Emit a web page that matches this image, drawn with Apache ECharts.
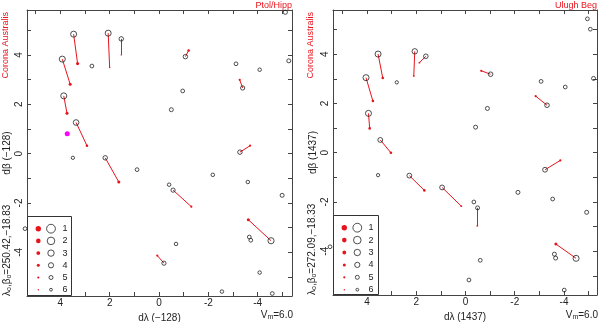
<!DOCTYPE html>
<html><head><meta charset="utf-8">
<script src="https://cdn.jsdelivr.net/npm/echarts@6/dist/echarts.min.js"></script>
<style>html,body{margin:0;padding:0;background:#fff}#c{width:600px;height:322px}</style>
</head><body><div id="c"></div>
<script>
// ---------------- data ----------------
const majorTicks = [-4, -2, 0, 2, 4];
const allTicks = [-5, -4, -3, -2, -1, 0, 1, 2, 3, 4, 5];
const legendMags = [1, 2, 3, 4, 5, 6];

// Left panel (Ptolemy vs Hipparcos): modern positions; first 13 are paired with catalog positions
const ptolHipX = [3.46, 2.06, 1.53, 3.92, 3.86, 3.36, -1.07, -3.39, -3.28, 2.18, -0.57, -4.54, -0.20,
  2.72, -3.12, -4.08, -5.12, -5.26, -0.96, -0.50, 3.49, 0.89, -2.18, -0.41, -3.60, -4.99, -3.66, -3.72, -0.69, -4.08, -2.55, -4.59, 5.43];
const ptolHipY = [4.84, 4.88, 4.65, 3.83, 2.34, 1.26, 3.93, 2.66, 0.06, -0.17, -1.48, -3.53, -4.44,
  3.55, 3.64, 3.40, 5.73, 3.76, 2.54, 1.78, -0.17, -0.65, -0.86, -1.26, -1.15, -1.69, -3.38, -3.51, -3.66, -4.82, -5.59, -5.67, -3.04];
const ptolHipMag = [3.3, 3.3, 4.6, 3.3, 3.3, 3.6, 4.6, 4.8, 4.6, 4.6, 4.8, 3.2, 4.8,
  5.2, 5.2, 5.4, 4.8, 5.0, 5.2, 5.0, 5.6, 5.2, 5.4, 5.4, 5.4, 5.0, 5.2, 5.2, 5.4, 5.4, 5.4, 5.2, 5.2];
const ptolCatX = [3.30, 2.00, 1.53, 3.60, 3.73, 2.92, -1.20, -3.27, -3.69, 1.63, -1.31, -3.62, 0.07];
const ptolCatY = [3.65, 3.49, 4.00, 2.81, 1.64, 0.32, 4.18, 2.99, 0.32, -1.15, -2.15, -2.68, -4.13];
const ptolCatMag = [3.8, 6.0, 6.0, 4.0, 4.0, 4.5, 4.5, 5.0, 5.0, 4.0, 5.0, 4.0, 5.0];
const ptolExtra = [3.72, 0.81];

// Right panel (Ulugh Beg vs Hipparcos)
const ulughHipX = [3.55, 4.04, 3.94, 3.46, 2.06, 1.61, -1.02, -3.31, 2.28, 0.95, -0.49, -3.23, -4.49,
  2.79, -3.07, -4.05, -0.89, -0.41, -4.95, -5.07, -5.20, 3.55, -0.34, -2.13, -3.54, -4.92, -3.61, -3.66, -0.60, -0.14, -4.01, 5.50];
const ulughHipY = [4.01, 3.05, 1.60, 0.52, 4.12, 3.92, 3.19, 1.93, -0.93, -1.41, -2.24, -0.69, -4.29,
  2.86, 2.90, 2.67, 1.80, 1.04, 5.44, 5.02, 3.02, -0.91, -2.00, -1.61, -1.88, -2.42, -4.12, -4.28, -4.37, -5.17, -5.58, -3.82];
const ulughHipMag = [3.3, 3.3, 3.3, 4.3, 3.8, 4.5, 4.5, 4.5, 4.3, 4.3, 5.0, 4.3, 3.3,
  5.6, 5.2, 5.2, 5.0, 5.0, 5.2, 5.2, 5.0, 5.6, 5.2, 5.0, 5.2, 5.0, 5.0, 5.0, 5.2, 5.2, 5.2, 5.2];
const ulughCatX = [3.36, 3.76, 3.89, 3.03, 2.10, 1.87, -0.64, -2.85, 1.67, 0.17, -0.48, -3.85, -3.67];
const ulughCatY = [3.04, 2.10, 0.99, 0.00, 3.12, 3.66, 3.33, 2.30, -1.53, -2.17, -2.97, -0.31, -3.71];
const ulughCatMag = [4.5, 4.5, 4.5, 4.5, 5.5, 5.5, 5.0, 5.0, 4.5, 5.5, 5.5, 5.0, 4.0];

// ---------------- styling ----------------
const FONT = 'Liberation Sans, Arial, sans-serif';
const RED = '#e8141c';
const AX = '#444';
const TXT = '#222';
const openSize = m => 10 - 1.2 * m;
const redSize = m => 6.2 - 0.8 * m;

const zip3 = (a, b, c) => a.map((v, i) => [v, b[i], c[i]]);

function xAxes(gi, min, max, name) {
  const base = {
    gridIndex: gi, type: 'value', min, max, inverse: true,
    axisLine: { show: true, onZero: false, lineStyle: { color: AX, width: 1 } },
    axisTick: { show: true, inside: true, length: 4, customValues: allTicks, lineStyle: { color: AX } },
    splitLine: { show: false }
  };
  return [
    Object.assign({}, base, {
      position: 'bottom',
      axisLabel: { customValues: majorTicks, fontSize: 10, color: TXT, margin: 2, fontFamily: FONT },
      name, nameLocation: 'middle', nameGap: 13,
      nameTextStyle: { fontSize: 10, color: TXT, fontFamily: FONT }
    }),
    Object.assign({}, base, { position: 'top', axisLabel: { show: false } })
  ];
}
function yAxes(gi, min, max, name) {
  const base = {
    gridIndex: gi, type: 'value', min, max,
    axisLine: { show: true, onZero: false, lineStyle: { color: AX, width: 1 } },
    axisTick: { show: true, inside: true, length: 4, customValues: allTicks, lineStyle: { color: AX } },
    splitLine: { show: false }
  };
  return [
    Object.assign({}, base, {
      position: 'left',
      axisLabel: { customValues: majorTicks, fontSize: 10, color: TXT, margin: 3, rotate: 90, fontFamily: FONT },
      name, nameLocation: 'middle', nameGap: 15,
      nameTextStyle: { fontSize: 10, color: TXT, fontFamily: FONT }
    }),
    Object.assign({}, base, { position: 'right', axisLabel: { show: false } })
  ];
}

function panelSeries(ai, hx, hy, hm, cx, cy, cm) {
  const pairs = cx.map((v, i) => ({ coords: [[hx[i], hy[i]], [cx[i], cy[i]]] }));
  return [
    { type: 'lines', coordinateSystem: 'cartesian2d', xAxisIndex: ai, yAxisIndex: ai, data: pairs,
      lineStyle: { color: RED, width: 1, opacity: 1 }, silent: true, z: 2 },
    { type: 'scatter', xAxisIndex: ai, yAxisIndex: ai, data: zip3(cx, cy, cm), clip: false,
      symbol: 'circle', symbolSize: v => redSize(v[2]), itemStyle: { color: RED, opacity: 1 }, z: 3 },
    { type: 'scatter', xAxisIndex: ai, yAxisIndex: ai, data: zip3(hx, hy, hm), clip: false,
      symbol: 'circle', symbolSize: v => openSize(v[2]),
      itemStyle: { color: 'rgba(255,255,255,0)', borderColor: '#222', borderWidth: 0.8, opacity: 1 }, z: 4 }
  ];
}

function legendEls(x0, y0, w, h, rowY0, dy, redX, openX, labX) {
  const els = [{ type: 'rect', z: 100, shape: { x: x0, y: y0, width: w, height: h },
    style: { fill: '#fff', stroke: '#333', lineWidth: 1 } }];
  legendMags.forEach((m, i) => {
    const cy = rowY0 + i * dy;
    els.push({ type: 'circle', z: 101, shape: { cx: redX, cy, r: redSize(m) / 2 }, style: { fill: RED } });
    els.push({ type: 'circle', z: 101, shape: { cx: openX, cy, r: openSize(m) / 2 },
      style: { fill: 'none', stroke: '#222', lineWidth: 0.8 } });
    els.push({ type: 'text', z: 101, x: labX, y: cy,
      style: { text: String(m), fontSize: 9, fill: TXT, align: 'center', verticalAlign: 'middle', fontFamily: FONT } });
  });
  return els;
}

function rotText(x, y, text, align, color, size, rich) {
  return { type: 'text', z: 50, x, y, rotation: Math.PI / 2,
    style: { text, fontSize: size, fill: color, align, verticalAlign: 'middle', fontFamily: FONT, rich } };
}
function plainText(x, y, text, align, color, size, rich) {
  return { type: 'text', z: 50, x, y,
    style: { text, fontSize: size, fill: color, align, verticalAlign: 'middle', fontFamily: FONT, rich } };
}
const subRich = {
  a: { fontSize: 10, fontFamily: FONT, fill: TXT },
  b: { fontSize: 7, fontFamily: FONT, fill: TXT, padding: [5, 0, 0, 0] }
};

const option = {
  animation: false,
  backgroundColor: '#fff',
  grid: [
    { left: 27, right: 308, top: 10, bottom: 26, containLabel: false, outerBoundsMode: 'none' },
    { left: 333, right: 3, top: 10, bottom: 27, containLabel: false, outerBoundsMode: 'none' }
  ],
  xAxis: [].concat(xAxes(0, -5.39, 5.35, 'dλ (−128)'), xAxes(1, -5.34, 5.38, 'dλ (1437)')),
  yAxis: [].concat(yAxes(0, -5.77, 5.82, 'dβ (−128)'), yAxes(1, -5.78, 5.80, 'dβ (1437)')),
  series: [].concat(
    panelSeries(0, ptolHipX, ptolHipY, ptolHipMag, ptolCatX, ptolCatY, ptolCatMag),
    [{ type: 'scatter', xAxisIndex: 0, yAxisIndex: 0, data: [ptolExtra], symbol: 'circle', symbolSize: 5,
       itemStyle: { color: '#ff00ff', opacity: 1 }, z: 5 }],
    panelSeries(2, ulughHipX, ulughHipY, ulughHipMag, ulughCatX, ulughCatY, ulughCatMag)
  ),
  graphic: { elements: [].concat(
    legendEls(27.5, 216.5, 44, 79, 228.7, 12.2, 38.3, 51, 65),
    legendEls(333.5, 215.5, 45, 79, 227.7, 12.4, 344.3, 357.3, 371),
    [
      rotText(6, 12, 'Corona Australis', 'right', RED, 9),
      plainText(292, 6, 'Ptol/Hipp', 'right', RED, 9),
      rotText(7, 296, '{a|λ}{b|o}{a|,β}{b|o}{a|=250.42,−18.83}', 'left', TXT, 10, subRich),
      plainText(293, 315, '{a|V}{b|m}{a|=6.0}', 'right', TXT, 10, subRich),
      rotText(311, 12, 'Corona Australis', 'right', RED, 9),
      plainText(597, 6, 'Ulugh Beg', 'right', RED, 9),
      rotText(312, 295, '{a|λ}{b|o}{a|,β}{b|o}{a|=272.09,−18.33}', 'left', TXT, 10, subRich),
      plainText(598, 315, '{a|V}{b|m}{a|=6.0}', 'right', TXT, 10, subRich)
    ]
  ) }
};

const chart = echarts.init(document.getElementById('c'), null, { renderer: 'canvas' });
chart.setOption(option);
</script>
</body></html>
